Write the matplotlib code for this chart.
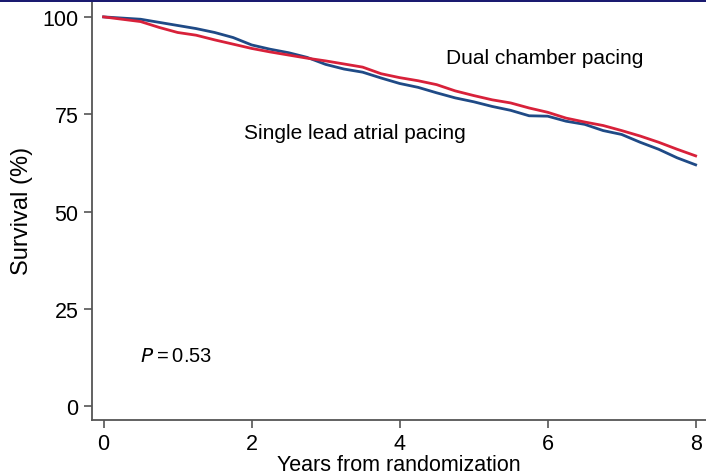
import numpy as np
import matplotlib
matplotlib.use('Agg')
import matplotlib.pyplot as plt
from matplotlib.patches import Rectangle

plt.rcParams['font.family'] = ['Liberation Sans', 'DejaVu Sans']

# Survival estimates (years, %)
years = [0, 0.25, 0.5, 0.75, 1.0, 1.25, 1.5, 1.75, 2.0, 2.25, 2.5, 2.75, 3.0,
         3.25, 3.5, 3.75, 4.0, 4.25, 4.5, 4.75, 5.0, 5.25, 5.5, 5.75, 6.0,
         6.25, 6.5, 6.75, 7.0, 7.25, 7.5, 7.75, 8.0]
dual_chamber = [100, 99.4, 98.8, 97.3, 96.0, 95.3, 94.1, 93.0, 91.9, 91.0, 90.2,
                89.4, 88.7, 87.9, 87.1, 85.4, 84.4, 83.6, 82.6, 81.0, 79.8, 78.7,
                77.9, 76.6, 75.5, 74.0, 73.0, 72.1, 70.8, 69.4, 67.8, 66.0, 64.3]
single_lead = [100, 99.7, 99.4, 98.6, 97.8, 97.0, 96.0, 94.7, 92.8, 91.7, 90.8,
               89.6, 87.8, 86.6, 85.8, 84.3, 82.9, 81.9, 80.5, 79.2, 78.2, 77.0,
               76.0, 74.6, 74.5, 73.2, 72.4, 70.8, 69.8, 67.8, 66.0, 63.8, 62.0]

xticks = [0, 2, 4, 6, 8]
yticks = [0, 25, 50, 75, 100]

fig = plt.figure(figsize=(7.06, 4.77), dpi=100)
ax = fig.add_axes([0.130, 0.117, 0.870, 0.883])

ax.plot(years, single_lead, color='#1f4a86', lw=2)
ax.plot(years, dual_chamber, color='#d8213a', lw=2)

ax.text(4.62, 89.7, 'Dual chamber pacing', fontsize=15, va='center')
ax.text(1.9, 70.4, 'Single lead atrial pacing', fontsize=15, va='center')
ax.text(0.49, 12.9, r'$P$' + '\u2009=\u20090.53', fontsize=14.5, va='center')

ax.set_xlim(-0.16, 8.14)
ax.set_ylim(-3.6, 104.6)
ax.set_xticks(xticks)
ax.set_yticks(yticks)
ax.tick_params(labelsize=15.5, length=6, width=1.2, color='#555555')
ax.tick_params(axis='x', pad=3)
ax.spines['top'].set_visible(False)
ax.spines['right'].set_visible(False)
for s in ['left', 'bottom']:
    ax.spines[s].set_color('#555555')
    ax.spines[s].set_linewidth(1.3)

ax.set_xlabel('Years from randomization', fontsize=15.5, labelpad=0.5)
ax.set_ylabel('Survival (%)', fontsize=17, labelpad=7)

# thin navy border at the top of the slide
fig.add_artist(Rectangle((0, 0.994), 1, 0.006, transform=fig.transFigure,
                         color='#1a1a70', lw=0))

fig.savefig('out.png', dpi=100)
